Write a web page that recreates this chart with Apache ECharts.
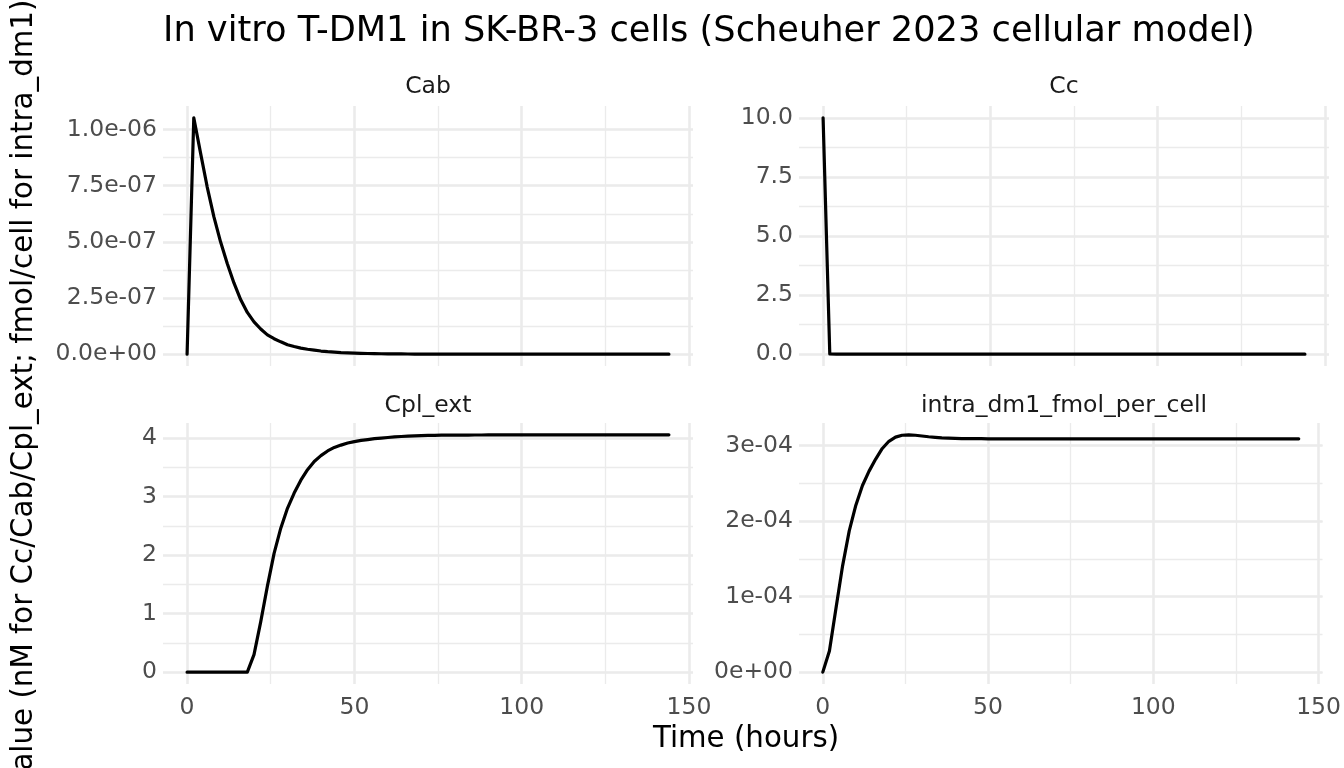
<!DOCTYPE html>
<html><head><meta charset="utf-8">
<script src="https://cdn.jsdelivr.net/npm/echarts@6/dist/echarts.min.js"></script>
<style>html,body{margin:0;padding:0;background:#fff}#c{width:1344px;height:768px}</style>
</head><body><div id="c"></div>
<script>
// ---- data ----
const time = [
  0,2,4,6,8,10,12,14,16,18,
  20,22,24,26,28,30,32,34,36,38,
  40,42,44,46,48,50,52,54,56,58,
  60,62,64,66,68,70,72,74,76,78,
  80,82,84,86,88,90,92,94,96,98,
  100,102,104,106,108,110,112,114,116,118,
  120,122,124,126,128,130,132,134,136,138,
  140,142,144];
const cab = [
  0,1.052e-6,8.97e-7,7.45e-7,6.12e-7,5.00e-7,4.04e-7,3.17e-7,2.43e-7,1.86e-7,
  1.44e-7,1.12e-7,8.6e-8,6.9e-8,5.5e-8,4.2e-8,3.4e-8,2.7e-8,2.2e-8,1.8e-8,
  1.4e-8,1.1e-8,9e-9,7e-9,6e-9,4.8e-9,3.8e-9,3.0e-9,2.4e-9,1.9e-9,
  1.5e-9,1.2e-9,1.0e-9,8e-10,6e-10,5e-10,4e-10,3e-10,2.5e-10,2e-10,
  1.5e-10,1e-10,1e-10,1e-10,0,0,0,0,0,0,
  0,0,0,0,0,0,0,0,0,0,
  0,0,0,0,0,0,0,0,0,0,
  0,0,0];
const cc = [
  10,0.012,0.002,0,0,0,0,0,0,0,
  0,0,0,0,0,0,0,0,0,0,
  0,0,0,0,0,0,0,0,0,0,
  0,0,0,0,0,0,0,0,0,0,
  0,0,0,0,0,0,0,0,0,0,
  0,0,0,0,0,0,0,0,0,0,
  0,0,0,0,0,0,0,0,0,0,
  0,0,0];
const cplExt = [
  0,0,0,0,0,0,0,0,0,0,
  0.30,0.86,1.47,2.03,2.46,2.80,3.06,3.28,3.46,3.60,
  3.70,3.78,3.84,3.88,3.915,3.94,3.96,3.975,3.99,4.00,
  4.01,4.02,4.027,4.033,4.038,4.042,4.045,4.047,4.049,4.05,
  4.051,4.052,4.052,4.053,4.053,4.054,4.054,4.054,4.055,4.055,
  4.055,4.055,4.055,4.055,4.055,4.055,4.055,4.055,4.055,4.055,
  4.055,4.055,4.055,4.055,4.055,4.055,4.055,4.055,4.055,4.055,
  4.055,4.055,4.055];
const intraDm1 = [
  0,2.8e-5,8.5e-5,1.41e-4,1.87e-4,2.21e-4,2.47e-4,2.66e-4,2.82e-4,2.96e-4,
  3.055e-4,3.11e-4,3.135e-4,3.14e-4,3.135e-4,3.125e-4,3.115e-4,3.107e-4,3.10e-4,3.096e-4,
  3.093e-4,3.091e-4,3.09e-4,3.089e-4,3.089e-4,3.088e-4,3.088e-4,3.088e-4,3.088e-4,3.088e-4,
  3.088e-4,3.088e-4,3.088e-4,3.088e-4,3.088e-4,3.088e-4,3.088e-4,3.088e-4,3.088e-4,3.088e-4,
  3.088e-4,3.088e-4,3.088e-4,3.088e-4,3.088e-4,3.088e-4,3.088e-4,3.088e-4,3.088e-4,3.088e-4,
  3.088e-4,3.088e-4,3.088e-4,3.088e-4,3.088e-4,3.088e-4,3.088e-4,3.088e-4,3.088e-4,3.088e-4,
  3.088e-4,3.088e-4,3.088e-4,3.088e-4,3.088e-4,3.088e-4,3.088e-4,3.088e-4,3.088e-4,3.088e-4,
  3.088e-4,3.088e-4,3.088e-4];

const panelTitles = ['Cab','Cc','Cpl_ext','intra_dm1_fmol_per_cell'];
const xTicks = [0,50,100,150];
const xTickLabels = ['0','50','100','150'];
const cabTicks = [0,2.5e-7,5e-7,7.5e-7,1e-6];
const cabTickLabels = ['0.0e+00','2.5e-07','5.0e-07','7.5e-07','1.0e-06'];
const ccTicks = [0,2.5,5,7.5,10];
const ccTickLabels = ['0.0','2.5','5.0','7.5','10.0'];
const cplTicks = [0,1,2,3,4];
const cplTickLabels = ['0','1','2','3','4'];
const intraTicks = [0,1e-4,2e-4,3e-4];
const intraTickLabels = ['0e+00','1e-04','2e-04','3e-04'];
const mainTitle = 'In vitro T-DM1 in SK-BR-3 cells (Scheuher 2023 cellular model)';
const xTitle = 'Time (hours)';
const yTitle = 'Value (nM for Cc/Cab/Cpl_ext; fmol/cell for intra_dm1)';

// ---- layout / style ----
const FONT = 'DejaVu Sans';
const grids = [
  {left:163, top:106, width:530, height:260},
  {left:799, top:106, width:530, height:260},
  {left:163, top:423, width:530, height:261},
  {left:799, top:423, width:530, height:261}
];
const panels = [
  {vals: cab, ticks: cabTicks, labels: cabTickLabels, step: 2.5e-7},
  {vals: cc, ticks: ccTicks, labels: ccTickLabels, step: 2.5},
  {vals: cplExt, ticks: cplTicks, labels: cplTickLabels, step: 1},
  {vals: intraDm1, ticks: intraTicks, labels: intraTickLabels, step: 1e-4}
];
function expand(arr){
  const mn = Math.min.apply(null, arr), mx = Math.max.apply(null, arr);
  const d = (mx - mn) * 0.05;
  return [mn - d, mx + d];
}
function labelFor(ticks, labels, step){
  return function(v){
    for (let i = 0; i < ticks.length; i++) {
      if (Math.abs(ticks[i] - v) < step * 1e-3) return labels[i];
    }
    return '';
  };
}
const xr = expand(time);
const MAJOR = {color:'#EBEBEB', width:2.6};
const MINOR = {color:'#EBEBEB', width:1.3};

const xAxis = [], yAxis = [], series = [];
panels.forEach(function(p, i){
  const yr = expand(p.vals);
  const bottomRow = i >= 2;
  xAxis.push({
    type:'value', gridIndex:i, min:xr[0], max:xr[1], splitNumber:3, minInterval:50, maxInterval:50,
    axisLine:{show:false}, axisTick:{show:false},
    axisLabel:{show:bottomRow, showMinLabel:false, showMaxLabel:false, margin:12,
      fontFamily:FONT, fontSize:23.5, color:'#4D4D4D', formatter:labelFor(xTicks, xTickLabels, 50)},
    splitLine:{show:true, showMinLine:false, showMaxLine:false, lineStyle:MAJOR}, z:2
  });
  xAxis.push({
    type:'value', gridIndex:i, min:xr[0], max:xr[1], splitNumber:6, minInterval:25, maxInterval:25,
    axisLine:{show:false}, axisTick:{show:false}, axisLabel:{show:false},
    splitLine:{show:true, showMinLine:false, showMaxLine:false, lineStyle:MINOR}, z:1
  });
  yAxis.push({
    type:'value', gridIndex:i, min:yr[0], max:yr[1], splitNumber:4, minInterval:p.step, maxInterval:p.step,
    axisLine:{show:false}, axisTick:{show:false},
    axisLabel:{show:true, showMinLabel:false, showMaxLabel:false, margin:6,
      fontFamily:FONT, fontSize:23.5, color:'#4D4D4D', formatter:labelFor(p.ticks, p.labels, p.step)},
    splitLine:{show:true, showMinLine:false, showMaxLine:false, lineStyle:MAJOR}, z:2
  });
  yAxis.push({
    type:'value', gridIndex:i, min:yr[0], max:yr[1], splitNumber:8, minInterval:p.step/2, maxInterval:p.step/2,
    axisLine:{show:false}, axisTick:{show:false}, axisLabel:{show:false},
    splitLine:{show:true, showMinLine:false, showMaxLine:false, lineStyle:MINOR}, z:1
  });
  series.push({
    type:'line', xAxisIndex:2*i, yAxisIndex:2*i,
    data: time.map(function(t, k){ return [t, p.vals[k]]; }),
    showSymbol:false, symbol:'none', smooth:false, clip:true,
    lineStyle:{color:'#000', width:3.2, cap:'round', join:'round'}, z:5
  });
});

const graphic = [
  {type:'text', x:163, y:32, style:{text:mainTitle, fontFamily:FONT, fontSize:35.2, fill:'#000', align:'left', verticalAlign:'middle'}},
  {type:'text', x:746, y:739, style:{text:xTitle, fontFamily:FONT, fontSize:29.3, fill:'#000', align:'center', verticalAlign:'middle'}},
  {type:'text', x:24, y:394, rotation:Math.PI/2, style:{text:yTitle, fontFamily:FONT, fontSize:29.3, fill:'#000', align:'center', verticalAlign:'middle'}}
];
grids.forEach(function(g, i){
  graphic.push({type:'text', x:g.left + g.width/2, y:g.top - (i >= 2 ? 17 : 19),
    style:{text:panelTitles[i], fontFamily:FONT, fontSize:23.5, fill:'#1A1A1A', align:'center', verticalAlign:'middle'}});
});

const chart = echarts.init(document.getElementById('c'), null, {renderer:'canvas'});
chart.setOption({
  animation:false,
  backgroundColor:'#fff',
  grid: grids,
  xAxis: xAxis,
  yAxis: yAxis,
  series: series,
  graphic: graphic
});
</script></body></html>
